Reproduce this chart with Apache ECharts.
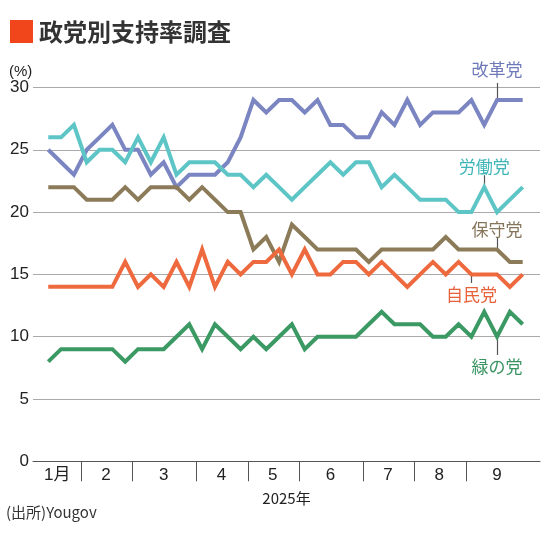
<!DOCTYPE html>
<html>
<head>
<meta charset="utf-8">
<script src="https://cdn.jsdelivr.net/npm/echarts@6/dist/echarts.min.js"></script>
<style>html,body{margin:0;padding:0;background:#fff}#c{width:550px;height:536px}</style>
</head>
<body>
<div id="c"></div>
<script>
// ---- data (weekly polls, Jan–Sep 2025) ----
const months = ['1月', '2', '3', '4', '5', '6', '7', '8', '9'];
const weeksPerMonth = [3, 4, 5, 4, 4, 5, 4, 4, 5];
const reform       = [25,24,23,25,26,27,25,25,23,24,22,23, 23,23,24,26,29,28,29,29,28,29,27,27,26,26, 28,27,29,27,28,28,28,29,27,29,29,29];
const labour       = [26,26,27,24,25,25,24,26,24,26,23,24, 24,24,23,23,22,23,22,21,22,23,24,23,24,24, 22,23,22,21,21,21,20,20,22,20,21,22];
const conservative = [22,22,22,21,21,21,22,21,22,22,22,21, 22,21,20,20,17,18,16,19,18,17,17,17,17,16, 17,17,17,17,17,18,17,17,17,17,16,16];
const libdem       = [14,14,14,14,14,14,16,14,15,14,16,14, 17,14,16,15,16,16,17,15,17,15,15,16,16,15, 16,15,14,15,16,15,16,15,15,15,14,15];
const green        = [ 8, 9, 9, 9, 9, 9, 8, 9, 9, 9,10,11,  9,11,10, 9,10, 9,10,11, 9,10,10,10,10,11, 12,11,11,11,10,10,11,10,12,10,12,11];
const partyNames = ['改革党', '労働党', '保守党', '自民党', '緑の党'];
const yearLabel = '2025年';
const sourceText = '(出所)Yougov';
const titleText = '政党別支持率調査';

// ---- layout / style ----
const X_MIN = -1.19, X_MAX = 38.35;
const FONT = "'Liberation Sans', Arial, 'Noto Sans CJK JP', sans-serif";
const JFONT = "'Noto Sans CJK JP', sans-serif";
const colors = {
  reform: '#7a85c1', labour: '#5ec5c6', conservative: '#8c7b58', libdem: '#ee693d', green: '#3b9963'
};
const textColors = {
  reform: '#6d79b8', labour: '#3db5b7', conservative: '#85755a', libdem: '#e8603a', green: '#3a9461'
};

// month boundaries & label positions (in week index units)
let cum = 0;
const boundaries = [], centers = [];
weeksPerMonth.forEach((n, i) => {
  const start = cum, end = cum + n - 1;
  centers.push(i === 0 ? (X_MIN + end + 0.58) / 2 : (start + end) / 2);
  cum += n;
  if (i < weeksPerMonth.length - 1) boundaries.push(cum - 0.5 + 0.08);
});

const toPairs = arr => arr.map((v, i) => [i, v]);

function lineSeries(name, data, color) {
  return {
    name, type: 'line', data: toPairs(data), symbol: 'none', showSymbol: false,
    lineStyle: { color, width: 4, join: 'miter' }, itemStyle: { color },
    clip: false, silent: true, animation: false
  };
}

const chart = echarts.init(document.getElementById('c'), null, { renderer: 'canvas' });
chart.setOption({
  backgroundColor: '#fff',
  animation: false,
  title: [
    { text: titleText, left: 39, top: 20, padding: 0, textStyle: { fontFamily: JFONT, fontSize: 24, fontWeight: 'bold', color: '#333' } },
    { text: '(%)', left: 9, top: 64, padding: 0, textStyle: { fontFamily: FONT, fontSize: 15, fontWeight: 'normal', color: '#222' } },
    { text: sourceText, left: 6, top: 505, padding: 0, textStyle: { fontFamily: JFONT, fontSize: 15, fontWeight: 'normal', color: '#333' } }
  ],
  grid: { left: 33, right: 10, top: 87.5, bottom: 74.7, containLabel: false },
  xAxis: {
    type: 'value', min: X_MIN, max: X_MAX,
    name: yearLabel, nameLocation: 'middle', nameGap: 29,
    nameTextStyle: { fontFamily: JFONT, fontSize: 15, color: '#222' },
    splitLine: { show: false },
    axisLine: { show: true, lineStyle: { color: '#555', width: 1 } },
    axisTick: { show: true, customValues: boundaries, length: 20, lineStyle: { color: '#555', width: 1 } },
    axisLabel: {
      customValues: centers, margin: 6, fontFamily: FONT, fontSize: 17, color: '#222',
      formatter: v => { const k = centers.findIndex(c => Math.abs(c - v) < 1e-6); return k >= 0 ? months[k] : ''; }
    }
  },
  yAxis: {
    type: 'value', min: 0, max: 30, interval: 5,
    axisLine: { show: false }, axisTick: { show: false },
    splitLine: { show: true, lineStyle: { color: '#aaa', width: 1 } },
    axisLabel: { margin: 4, fontFamily: FONT, fontSize: 17, color: '#222' }
  },
  series: [
    lineSeries(partyNames[0], reform, colors.reform),
    lineSeries(partyNames[1], labour, colors.labour),
    lineSeries(partyNames[2], conservative, colors.conservative),
    lineSeries(partyNames[3], libdem, colors.libdem),
    lineSeries(partyNames[4], green, colors.green)
  ]
});

// ---- party labels with leader lines, anchored through the axes ----
const annotations = [
  { name: partyNames[0], data: reform,       week: 35, dir: -1, lead: 17, text: 30, color: textColors.reform },
  { name: partyNames[1], data: labour,       week: 34, dir: -1, lead: 12, text: 21, color: textColors.labour },
  { name: partyNames[2], data: conservative, week: 35, dir: -1, lead: 11.5, text: 20, color: textColors.conservative },
  { name: partyNames[3], data: libdem,       week: 33, dir: 1,  lead: 8.6, text: 20, color: textColors.libdem },
  { name: partyNames[4], data: green,        week: 35, dir: 1,  lead: 18.3, text: 30, color: textColors.green }
];
const extra = [{ type: 'rect', shape: { x: 10, y: 20, width: 23, height: 23 }, style: { fill: '#f1461b' } }];
annotations.forEach(a => {
  const p = chart.convertToPixel({ gridIndex: 0 }, [a.week, a.data[a.week]]);
  const x = Math.round(p[0]) + 0.5;
  extra.push({
    type: 'line', z: 1, silent: true,
    shape: { x1: x, y1: p[1], x2: x, y2: p[1] + a.dir * a.lead },
    style: { stroke: '#555', lineWidth: 1.2 }
  });
  extra.push({
    type: 'text', z: 10, silent: true, x: p[0], y: p[1] + a.dir * a.text,
    style: { text: a.name, fill: a.color, font: "17px 'Noto Sans CJK JP', sans-serif", textAlign: 'center', textVerticalAlign: 'middle' }
  });
});
chart.setOption({ graphic: extra }, { replaceMerge: ['graphic'] });
</script>
</body>
</html>
